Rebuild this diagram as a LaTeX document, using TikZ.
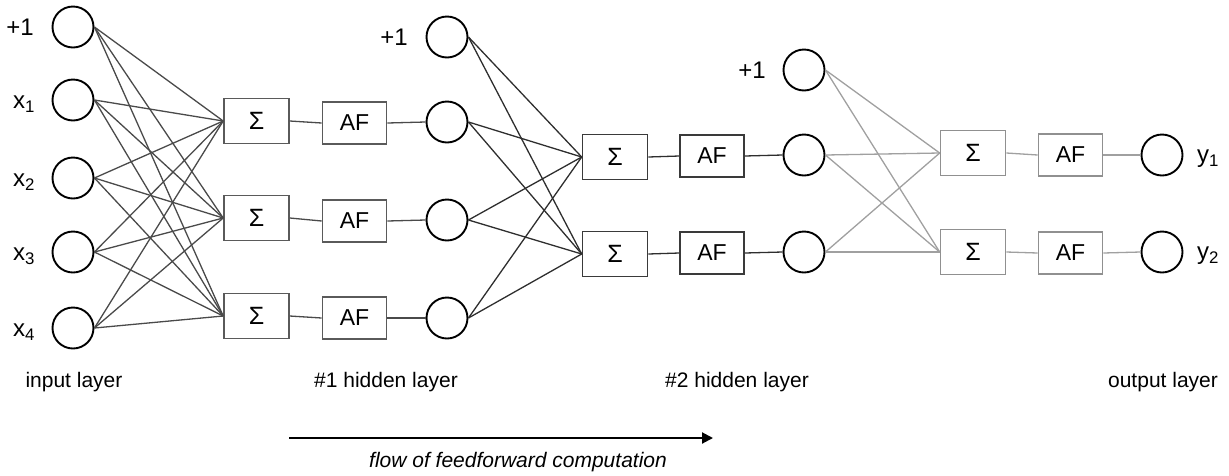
\documentclass[tikz,border=0pt]{standalone}
\usepackage{fontspec}
\setmainfont{Liberation Sans}
\usetikzlibrary{arrows.meta}
\definecolor{boxA}{HTML}{5A5A5A}
\definecolor{boxB}{HTML}{3A3A3A}
\definecolor{boxC}{HTML}{909090}
\definecolor{lineA}{HTML}{4A4A4A}
\definecolor{lineB}{HTML}{2E2E2E}
\definecolor{lineC}{HTML}{A0A0A0}
\begin{document}
\begin{tikzpicture}[x=1pt,y=-1pt,
  neuron/.style={circle,draw=black,line width=1.9pt,minimum size=41pt,inner sep=0pt},
  sumbox/.style={rectangle,draw=#1,line width=1.6pt,minimum width=65pt,minimum height=45pt,inner sep=0pt,font=\fontsize{25}{28}\selectfont},
  afbox/.style={rectangle,draw=#1,line width=1.6pt,minimum width=64pt,minimum height=42pt,inner sep=0pt,font=\fontsize{23}{26}\selectfont},
  lbl/.style={inner sep=0pt,font=\fontsize{21}{25}\selectfont},
  nlbl/.style={inner sep=0pt,font=\fontsize{24}{28}\selectfont},
  conA/.style={draw=lineA,line width=1.3pt},
  conB/.style={draw=lineB,line width=1.3pt},
  conC/.style={draw=lineC,line width=1.3pt}
]
\useasboundingbox (0,0) rectangle (1229,475);
% input layer
\node[neuron] (i0) at (73,27) {};
\node[neuron] (i1) at (73,100) {};
\node[neuron] (i2) at (73,178) {};
\node[neuron] (i3) at (73,252) {};
\node[neuron] (i4) at (73,328) {};
\node[nlbl] (li0) at (20,27) {+1};
\node[nlbl] (li1) at (24,104) {x\textsubscript{1}};
\node[nlbl] (li2) at (24,182) {x\textsubscript{2}};
\node[nlbl] (li3) at (24,256) {x\textsubscript{3}};
\node[nlbl] (li4) at (24,332) {x\textsubscript{4}};
% hidden layer 1
\node[sumbox=boxA] (s1) at (256.5,121) {Σ};
\node[sumbox=boxA] (s2) at (256.5,218) {Σ};
\node[sumbox=boxA] (s3) at (256.5,316) {Σ};
\node[afbox=boxA] (a1) at (354.5,123) {AF};
\node[afbox=boxA] (a2) at (354.5,221) {AF};
\node[afbox=boxA] (a3) at (354.5,318) {AF};
\node[neuron] (h0) at (447,37) {};
\node[neuron] (h1) at (447,122) {};
\node[neuron] (h2) at (447,220) {};
\node[neuron] (h3) at (447,318) {};
\node[nlbl] (lh0) at (394,37) {+1};
% hidden layer 2
\node[sumbox=boxB] (t1) at (615,157) {Σ};
\node[sumbox=boxB] (t2) at (615,254) {Σ};
\node[afbox=boxB] (b1) at (712,156) {AF};
\node[afbox=boxB] (b2) at (712,253) {AF};
\node[neuron] (g0) at (804,70) {};
\node[neuron] (g1) at (804,155) {};
\node[neuron] (g2) at (804,252) {};
\node[nlbl] (lg0) at (752,70) {+1};
% output layer
\node[sumbox=boxC] (u1) at (973,153) {Σ};
\node[sumbox=boxC] (u2) at (973,252) {Σ};
\node[afbox=boxC] (c1) at (1070.5,155) {AF};
\node[afbox=boxC] (c2) at (1070.5,253) {AF};
\node[neuron] (o1) at (1162,155) {};
\node[neuron] (o2) at (1162,252) {};
\node[nlbl] (lo1) at (1208,159) {y\textsubscript{1}};
\node[nlbl] (lo2) at (1208,256) {y\textsubscript{2}};
% connectors layer 1
\foreach \i in {0,...,4}{
  \foreach \s in {1,2,3}{
    \draw[conA] (i\i.east) -- (s\s.west);
  }
}
\foreach \k in {1,2,3}{
  \draw[conA] (s\k.east) -- (a\k.west);
  \draw[conA] (a\k.east) -- (h\k.west);
}
% connectors layer 2
\foreach \i in {0,...,3}{
  \foreach \s in {1,2}{
    \draw[conB] (h\i.east) -- (t\s.west);
  }
}
\foreach \k in {1,2}{
  \draw[conB] (t\k.east) -- (b\k.west);
  \draw[conB] (b\k.east) -- (g\k.west);
}
% connectors output
\foreach \i in {0,...,2}{
  \foreach \s in {1,2}{
    \draw[conC] (g\i.east) -- (u\s.west);
  }
}
\foreach \k in {1,2}{
  \draw[conC] (u\k.east) -- (c\k.west);
  \draw[conC] (c\k.east) -- (o\k.west);
}
% layer labels
\node[lbl] (L1) at (74,382) {input layer};
\node[lbl] (L2) at (386,382) {\#1 hidden layer};
\node[lbl] (L3) at (737,382) {\#2 hidden layer};
\node[lbl] (L4) at (1163,382) {output layer};
% flow arrow
\coordinate (fa) at (289,438);
\coordinate (fb) at (713,438);
\draw[line width=2pt,-{Triangle[length=11pt,width=11pt]}] (fa) -- (fb);
\node[lbl,font=\fontsize{21}{25}\selectfont\itshape] (ft) at (518,462) {flow of feedforward computation};
\end{tikzpicture}
\end{document}
